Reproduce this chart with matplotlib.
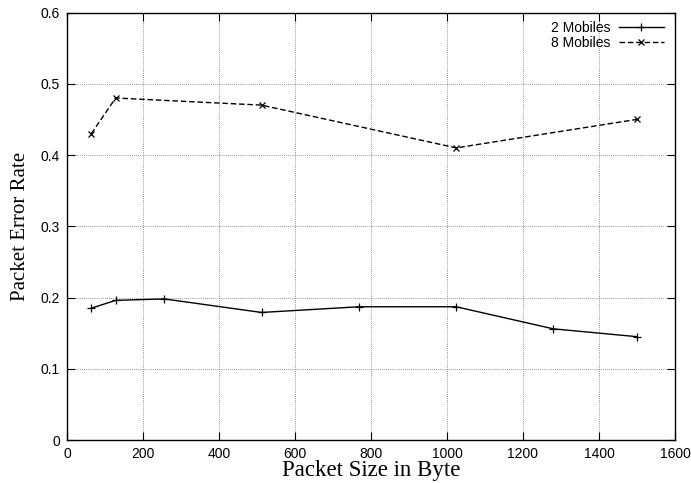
import matplotlib
matplotlib.use("Agg")
import matplotlib.pyplot as plt

x2 = [64, 128, 256, 512, 768, 1024, 1280, 1500]
y2 = [0.185, 0.196, 0.198, 0.179, 0.187, 0.187, 0.156, 0.145]
x8 = [64, 128, 512, 1024, 1500]
y8 = [0.43, 0.48, 0.47, 0.41, 0.45]
xticks = [0, 200, 400, 600, 800, 1000, 1200, 1400, 1600]
yticks = [0, 0.1, 0.2, 0.3, 0.4, 0.5, 0.6]
ytick_labels = ["0", "0.1", "0.2", "0.3", "0.4", "0.5", "0.6"]

fig = plt.figure(figsize=(6.91, 4.83), dpi=100)
ax = fig.add_axes([67/691, 43/483, 608/691, 427.5/483])

ax.plot(x2, y2, color="black", lw=1.0, marker="+", ms=6, mew=0.9, label="2 Mobiles")
ax.plot(x8, y8, color="black", lw=1.0, ls=(0, (4, 2)), marker="x", ms=5, mew=0.9, label="8 Mobiles")

ax.set_xlim(0, 1600)
ax.set_ylim(0, 0.6)
ax.set_xticks(xticks)
ax.set_yticks(yticks)
ax.set_yticklabels(ytick_labels)
ax.grid(True, color="#333333", ls=(0, (1, 2)), lw=0.5)
ax.tick_params(direction="in", top=True, right=True, length=6, width=0.8,
               labelsize=10, pad=5)
for lab in ax.get_xticklabels() + ax.get_yticklabels():
    lab.set_family("Liberation Sans")
for s in ax.spines.values():
    s.set_linewidth(1.0)

ax.set_xlabel("Packet Size in Byte", family="Liberation Serif", fontsize=16.5, labelpad=-1)
ax.set_ylabel("Packet Error Rate", family="Liberation Serif", fontsize=15, labelpad=8)

leg = ax.legend(loc="upper right", frameon=False, markerfirst=False,
                prop={"family": "Liberation Sans", "size": 10},
                handlelength=3.2, handletextpad=0.6, labelspacing=0.05,
                borderaxespad=0.2, bbox_to_anchor=(0.995, 1.0))

fig.savefig("out.png", dpi=100)
